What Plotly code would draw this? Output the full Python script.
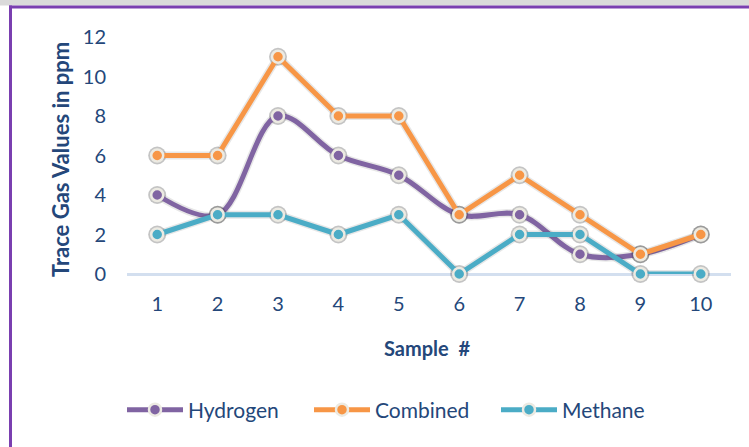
import plotly.graph_objects as go

samples = [1, 2, 3, 4, 5, 6, 7, 8, 9, 10]
hydrogen = [4, 3, 8, 6, 5, 3, 3, 1, 1, 2]
combined = [6, 6, 11, 8, 8, 3, 5, 3, 1, 2]
methane = [2, 3, 3, 2, 3, 0, 2, 2, 0, 0]
y_ticks = [0, 2, 4, 6, 8, 10, 12]

W, H = 749, 447
TXT = "#24477A"
FONT = "Lato"

series = [
    ("Hydrogen", hydrogen, "#8064A2", "spline"),
    ("Combined", combined, "#F79646", "linear"),
    ("Methane", methane, "#4BACC6", "linear"),
]

fig = go.Figure()
for name, vals, col, shape in series:
    fig.add_trace(go.Scatter(
        x=samples, y=vals, mode="lines+markers", showlegend=False, hoverinfo="skip",
        line=dict(color="rgba(60,60,60,0.12)", width=8, shape=shape, smoothing=1),
        marker=dict(size=18, color="rgba(60,60,60,0.30)", line=dict(width=0)),
        cliponaxis=False,
    ))
    fig.add_trace(go.Scatter(
        x=samples, y=vals, mode="lines+markers", name=name,
        line=dict(color=col, width=5, shape=shape, smoothing=1),
        marker=dict(size=12, color=col, line=dict(color="#ECEAE2", width=2.5)),
        cliponaxis=False,
    ))

x0, x1 = 127, 731
y_top, y_bot = 37, 274

fig.update_layout(
    width=W, height=H,
    margin=dict(l=0, r=0, t=0, b=0, autoexpand=False),
    paper_bgcolor="white", plot_bgcolor="white",
    font=dict(family=FONT, color=TXT, size=20),
    xaxis=dict(
        domain=[x0 / W, x1 / W], range=[0.5, 10.5], automargin=False,
        tickmode="array", tickvals=samples, ticktext=[str(s) for s in samples],
        showgrid=False, zeroline=False, showline=False, ticks="",
        ticklabelstandoff=16, tickfont=dict(size=20, color=TXT, family=FONT),
    ),
    yaxis=dict(
        domain=[1 - y_bot / H, 1 - y_top / H], range=[0, 12], automargin=False,
        tickmode="array", tickvals=y_ticks,
        showgrid=False, zeroline=True, zerolinecolor="#D3DFEF", zerolinewidth=2.5,
        showline=False, ticks="",
        ticklabelstandoff=20, tickfont=dict(size=20, color=TXT, family=FONT),
    ),
    legend=dict(
        orientation="h", x=122 / W, y=1 - 410 / H, xanchor="left", yanchor="middle",
        font=dict(size=21, color=TXT, family=FONT), itemwidth=56,
        entrywidth=116, entrywidthmode="pixels",
        bgcolor="rgba(0,0,0,0)", tracegroupgap=0,
    ),
    annotations=[
        dict(text="<b>Sample  #</b>", x=427 / W, y=1 - 348 / H, xref="paper", yref="paper",
             showarrow=False, font=dict(size=20, color=TXT, family=FONT),
             xanchor="center", yanchor="middle"),
        dict(text="<b>Trace Gas Values in ppm</b>", x=60 / W, y=1 - 160 / H, xref="paper",
             yref="paper", showarrow=False, textangle=-90,
             font=dict(size=22, color=TXT, family=FONT),
             xanchor="center", yanchor="middle"),
    ],
    shapes=[
        dict(type="rect", xref="paper", yref="paper", x0=0, x1=1, y0=1 - 5.5 / H, y1=1,
             fillcolor="#DADADA", line=dict(width=0), layer="below"),
        dict(type="line", xref="paper", yref="paper", x0=9 / W, x1=1, y0=1 - 7 / H,
             y1=1 - 7 / H, line=dict(color="#7A3FB0", width=3)),
        dict(type="line", xref="paper", yref="paper", x0=10.5 / W, x1=10.5 / W, y0=0,
             y1=1 - 5.5 / H, line=dict(color="#7A3FB0", width=3)),
    ],
)

fig.write_html(
    "out.html",
    config={"displayModeBar": False},
    post_script="document.body.style.margin='0';document.body.style.padding='0';"
                "document.body.style.overflow='hidden';"
                "var gd=document.getElementById('{plot_id}');"
                "gd.style.position='fixed';gd.style.top='0px';gd.style.left='0px';",
)
